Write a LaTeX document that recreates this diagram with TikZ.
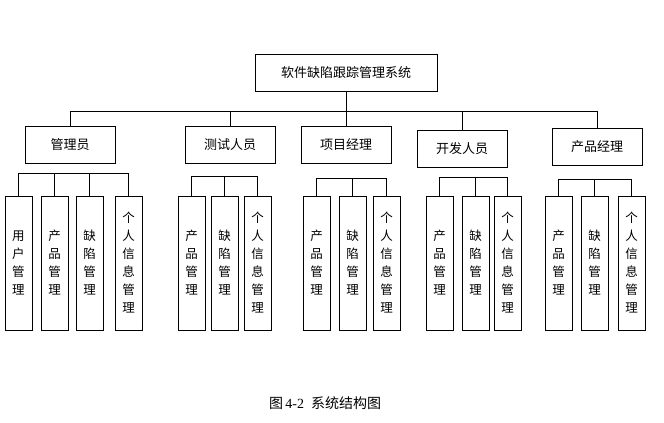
\documentclass[tikz,border=0pt]{standalone}
\usepackage{fontspec}
\setmainfont{Liberation Serif}
\newfontfamily\cjk{Noto Sans CJK SC}
\begin{document}
\begin{tikzpicture}[x=1pt,y=-1pt,
  box/.style={draw,line width=0.9pt,inner sep=0pt,font=\cjk\fontsize{13}{16}\selectfont},
  vbox/.style={draw,line width=0.9pt,inner sep=0pt,minimum width=27pt,minimum height=134pt,font=\cjk\fontsize{12.5}{18}\selectfont,align=center},
  ln/.style={line width=0.9pt}]
\useasboundingbox (0,0) rectangle (664,423);
\node[box,minimum width=182pt,minimum height=37pt] (top) at (346,73) {软件缺陷跟踪管理系统};
\node[box,minimum width=90pt,minimum height=37pt] (a) at (70,144.5) {管理员};
\node[box,minimum width=90pt,minimum height=37pt] (b) at (230,144.5) {测试人员};
\node[box,minimum width=90pt,minimum height=37pt] (c) at (346,144.5) {项目经理};
\node[box,minimum width=90pt,minimum height=37pt] (d) at (462,148.5) {开发人员};
\node[box,minimum width=90pt,minimum height=37pt] (e) at (597,146.5) {产品经理};
\coordinate (bus) at (0,111);
\draw[ln] (top.south) -- (top.south|-bus);
\draw[ln] (a.north|-bus) -- (e.north|-bus);
\foreach \n in {a,b,c,d,e} \draw[ln] (\n.north|-bus) -- (\n.north);
\foreach \nm/\x/\t in {a1/18.5/{用\\户\\管\\理},a2/54.5/{产\\品\\管\\理},a3/89.5/{缺\\陷\\管\\理},a4/128.5/{个\\人\\信\\息\\管\\理},
  b1/191.5/{产\\品\\管\\理},b2/224.5/{缺\\陷\\管\\理},b3/257.5/{个\\人\\信\\息\\管\\理},
  c1/316.5/{产\\品\\管\\理},c2/352.5/{缺\\陷\\管\\理},c3/386.5/{个\\人\\信\\息\\管\\理},
  d1/439.5/{产\\品\\管\\理},d2/475.5/{缺\\陷\\管\\理},d3/507.5/{个\\人\\信\\息\\管\\理},
  e1/558.5/{产\\品\\管\\理},e2/594.5/{缺\\陷\\管\\理},e3/631.5/{个\\人\\信\\息\\管\\理}}
  \node[vbox] (\nm) at (\x,263) {\t};
\coordinate (ba) at (0,173); \coordinate (bb) at (0,176); \coordinate (bc) at (0,178);
\coordinate (bd) at (0,177); \coordinate (be) at (0,179);
\draw[ln] (a1.north|-ba) -- (a4.north|-ba);
\foreach \n in {a1,a2,a3,a4} \draw[ln] (\n.north|-ba) -- (\n.north);
\draw[ln] (b1.north|-bb) -- (b3.north|-bb);
\foreach \n in {b1,b2,b3} \draw[ln] (\n.north|-bb) -- (\n.north);
\draw[ln] (c1.north|-bc) -- (c3.north|-bc);
\foreach \n in {c1,c2,c3} \draw[ln] (\n.north|-bc) -- (\n.north);
\draw[ln] (d1.north|-bd) -- (d3.north|-bd);
\foreach \n in {d1,d2,d3} \draw[ln] (\n.north|-bd) -- (\n.north);
\draw[ln] (e1.north|-be) -- (e3.north|-be);
\foreach \n in {e1,e2,e3} \draw[ln] (\n.north|-be) -- (\n.north);
\node[font=\fontsize{14}{16}\selectfont] (cap) at (325,403) {{\cjk 图}\,4-2\ \ {\cjk 系统结构图}};
\end{tikzpicture}
\end{document}
